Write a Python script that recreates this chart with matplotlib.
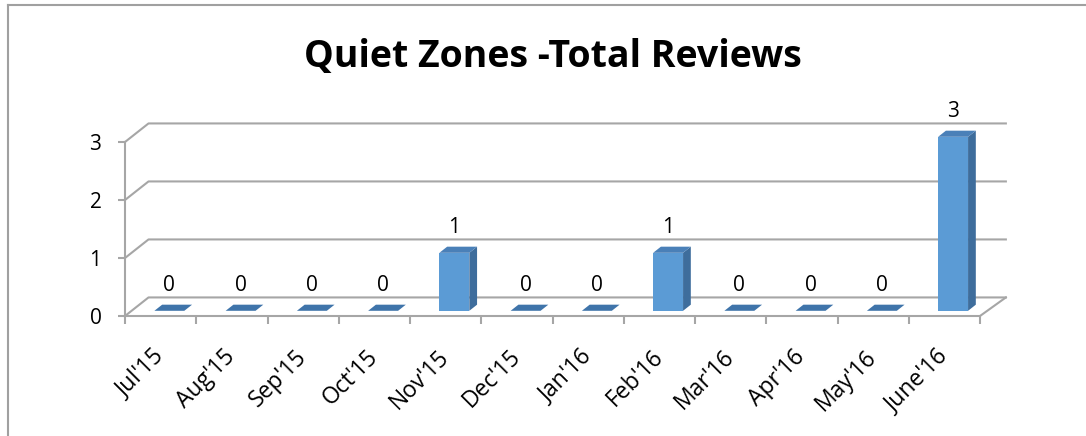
import matplotlib
matplotlib.use("Agg")
import matplotlib.pyplot as plt
from matplotlib.patches import Polygon
from matplotlib.lines import Line2D

# data
months = ["Jul'15", "Aug'15", "Sep'15", "Oct'15", "Nov'15", "Dec'15",
          "Jan'16", "Feb'16", "Mar'16", "Apr'16", "May'16", "June'16"]
reviews = [0, 0, 0, 0, 1, 0, 0, 1, 0, 0, 0, 3]
yticks = [0, 1, 2, 3]

plt.rcParams['font.family'] = ['Open Sans', 'DejaVu Sans']

W, H = 1086, 436
fig = plt.figure(figsize=(W / 100, H / 100), dpi=100)

# chart border (only top and left visible in the original crop)
fig.add_artist(Line2D([8 / W, 8 / W], [0, 1 - 5 / H], transform=fig.transFigure, color='#a0a0a0', lw=1.5))
fig.add_artist(Line2D([8 / W, 1], [1 - 5 / H, 1 - 5 / H], transform=fig.transFigure, color='#a0a0a0', lw=1.5))

fig.text(553 / W, 1 - 57 / H, "Quiet Zones -Total Reviews", ha='center', va='center',
         fontsize=27, fontweight='bold')

ax = fig.add_axes([125 / W, 1 - 316 / H, 855 / W, 174 / H])
n = len(months)
ax.set_xlim(0, n)
ax.set_ylim(0, 3)
ax.patch.set_alpha(0)

# pseudo 3d depth offsets (in data units)
DX = 0.33
DY = 0.32
grid_c = '#a6a6a6'

for v in yticks:
    ax.plot([0, DX, n + DX * 1.1], [v, v + DY, v + DY], color=grid_c, lw=1.5, clip_on=False, zorder=1)
# floor
ax.plot([n, n + DX * 1.1], [0, DY], color=grid_c, lw=1.5, clip_on=False, zorder=1)

# bars
w = 0.42
d0 = 0.28
dd = 0.33
front_c = '#5b9bd5'
side_c = '#3e6d9c'
top_c = '#4a80b8'
for i, v in enumerate(reviews):
    x0 = i + 0.5 - w / 2 + d0 * DX + 0.03
    x1 = x0 + w
    yb = d0 * DY
    yt = v + d0 * DY
    ox, oy = dd * DX, dd * DY
    if v > 0:
        ax.add_patch(Polygon([(x0, yb), (x1, yb), (x1, yt), (x0, yt)], closed=True,
                             facecolor=front_c, edgecolor='none', zorder=3, clip_on=False))
        ax.add_patch(Polygon([(x1, yb), (x1 + ox, yb + oy), (x1 + ox, yt + oy), (x1, yt)], closed=True,
                             facecolor=side_c, edgecolor='none', zorder=3, clip_on=False))
    ax.add_patch(Polygon([(x0, yt), (x1, yt), (x1 + ox, yt + oy), (x0 + ox, yt + oy)], closed=True,
                         facecolor=top_c if v > 0 else '#3f74aa', edgecolor='none', zorder=3, clip_on=False))
    ax.text((x0 + x1) / 2, v + 0.53, str(v), ha='center', va='center', fontsize=15, clip_on=False)

for s in ['top', 'right']:
    ax.spines[s].set_visible(False)
for s in ['left', 'bottom']:
    ax.spines[s].set_color(grid_c)
    ax.spines[s].set_linewidth(1.5)

ax.set_yticks(yticks)
ax.set_yticklabels([str(t) for t in yticks], fontsize=15)
ax.tick_params(axis='y', length=5, width=1.5, color=grid_c, pad=12)

ax.set_xticks(range(n + 1))
ax.set_xticklabels([])
ax.tick_params(axis='x', which='major', length=6, width=1.5, color=grid_c, direction='out')
ax.set_xticks([i + 0.5 for i in range(n)], minor=True)
ax.set_xticklabels(months, minor=True, rotation=45, ha='right', va='center',
                   rotation_mode='anchor', fontsize=16.5)
ax.tick_params(axis='x', which='minor', length=0, pad=27)

fig.savefig("out.png", dpi=100)
